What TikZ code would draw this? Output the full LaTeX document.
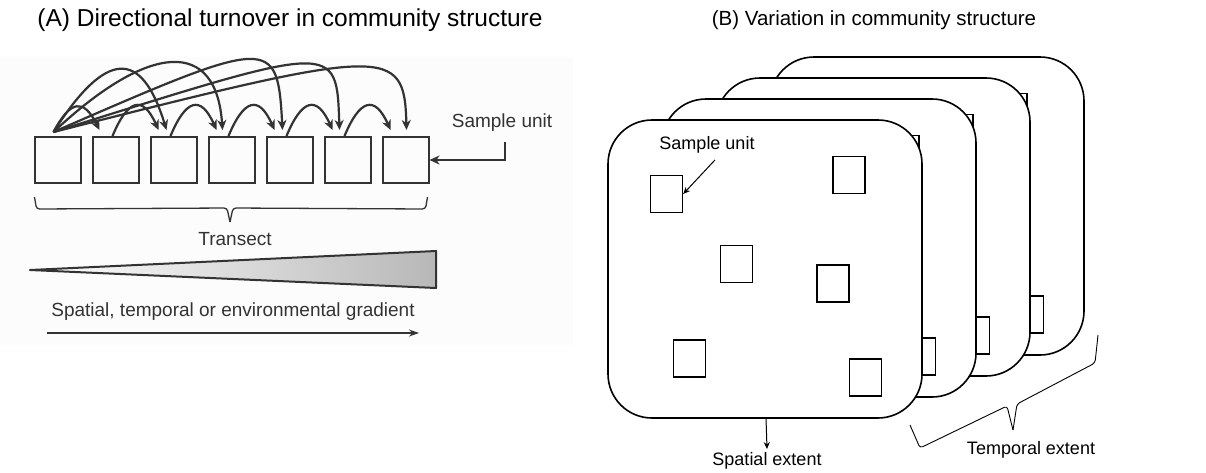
\documentclass[tikz,border=0pt]{standalone}
\usepackage{fontspec}
\setmainfont{Liberation Sans}
\usetikzlibrary{positioning,arrows.meta,calc}
\definecolor{inkA}{HTML}{333333}
\definecolor{paperA}{HTML}{FCFCFC}

\tikzset{
  titleA/.style={font=\fontsize{24.5}{28}\selectfont},
  titleB/.style={font=\fontsize{20.5}{24}\selectfont},
  labelA/.style={font=\fontsize{19}{22}\selectfont, text=inkA},
  labelB/.style={font=\fontsize{18}{21}\selectfont},
  unitbox/.style={draw=inkA, line width=2pt, minimum width=46pt, minimum height=46pt, inner sep=0pt},
  plotbox/.style={draw, line width=1.4pt, minimum width=32pt, minimum height=37pt, inner sep=0pt},
  hop/.style={draw=inkA, line width=2.2pt, -{Stealth[length=10pt,width=9pt,inset=3pt]}},
  card/.style={draw, line width=1.6pt, fill=white, rounded corners=44pt},
  pointer/.style={draw, line width=1pt, -{Stealth[length=7pt,width=6pt]}},
  bracketline/.style={draw, line width=#1, rounded corners=3pt},
}

\begin{document}
\begin{tikzpicture}[x=1pt,y=-1pt]
  \useasboundingbox (0,0) rectangle (1206,472);
  \fill[paperA] (0,57) rectangle (573,345);

  % (A) transect
  \node[titleA] (ttlA) at (290,20) {(A) Directional turnover in community structure};
  \foreach \i in {1,...,7}
    \node[unitbox] (u\i) at ({57.5+58*(\i-1)},160) {};

  \coordinate (src) at ([xshift=-4pt,yshift=4pt]u1.north);
  % hops from the first unit
  \foreach \k/\dx/\ax/\ah/\bx/\bh in {2/8/17/32/-16/32, 3/17/52/82/-25/82, 4/15/97/91/-6/91,
      5/17/218/95/-5/95, 6/16/284/89/-3/89, 7/25/335/85/-2/85}
    \draw[hop] (src) .. controls +(\ax,-\ah) and +(\bx,-\bh) .. ([xshift=\dx pt,yshift=6pt]u\k.north west);
  % hops between neighbours
  \foreach \i [evaluate=\i as \j using int(\i+1)] in {2,...,6}
    \draw[hop] ([xshift=21pt]u\i.north west) .. controls +(15,-36) and +(-16,-36) .. ([xshift=9pt,yshift=6pt]u\j.north west);

  \node[labelA] (suA) at (502,123) {Sample unit};
  \draw[hop] ([xshift=3pt,yshift=-7pt]suA.south) |- (u7.east);

  \coordinate (brL) at ([xshift=1pt,yshift=-13pt]u1.south west);
  \coordinate (brR) at ([xshift=-2pt,yshift=-13pt]u7.south east);
  \draw[inkA, bracketline=1.3pt] (brL) -- ++(2,12) -- (227,208) -- (230,222);
  \draw[inkA, bracketline=1.3pt] (brR) -- ++(-2,12) -- (233,208) -- (230,222);
  \node[labelA] (tr) at (235,239) {Transect};

  \draw[inkA, line width=2pt, line join=round, left color=white, right color=black!28]
    (30,270) -- (436,251) -- (436,288) -- cycle;

  \node[labelA] (grad) at (233,312) {Spatial, temporal or environmental gradient};
  \coordinate (g0) at (47,333);
  \coordinate (g1) at (419,333);
  \draw[inkA, line width=1.5pt, -{Stealth[length=10pt,width=7pt]}] (g0) -- (g1);

  % (B) stacked surveys
  \node[titleB] (ttlB) at (874,20) {(B) Variation in community structure};
  \foreach \c in {3,2,1,0}{
    \begin{scope}[shift={({54*\c},{-21*\c})}]
      \draw[card] (608,120) rectangle (922,418);
      \foreach \n/\px/\py in {1/666.5/194, 2/849/175, 3/736.5/264, 4/833/283.5, 5/689.5/358.5, 6/865.5/377.5}
        \node[plotbox] (p\c-\n) at (\px,\py) {};
    \end{scope}
  }

  \node[labelB] (suB) at (707,145) {Sample unit};
  \draw[pointer] ([xshift=8pt,yshift=-3pt]suB.south) -- (p0-1.east);

  \coordinate (base) at (766,418);
  \node[labelB] (spx) at (767,461) {Spatial extent};
  \draw[pointer] (base) -- (spx.north);

  \coordinate (t0) at (1098,335);
  \coordinate (t1) at (910,425);
  \draw[bracketline=0.9pt] (t1) -- (920,448) -- (1007,406) -- (1013,430);
  \draw[bracketline=0.9pt] (t0) -- (1095,363) -- (1017,404) -- (1013,430);
  \node[labelB] (tpx) at (1031,450) {Temporal extent};
\end{tikzpicture}
\end{document}
